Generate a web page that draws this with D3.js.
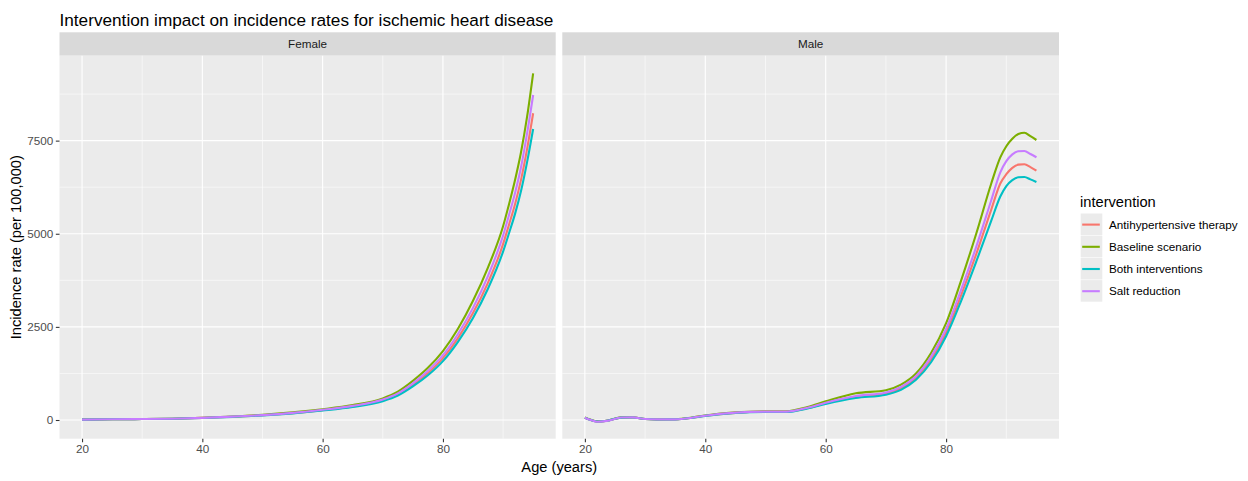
<!DOCTYPE html>
<html>
<head>
<meta charset="utf-8">
<script src="https://cdn.jsdelivr.net/npm/d3@7"></script>
<style>
  html, body { margin: 0; padding: 0; background: #ffffff; }
  svg { display: block; font-family: "Liberation Sans", Arial, sans-serif; }
</style>
</head>
<body>
<svg id="chart" width="1248" height="481"></svg>
<script>
// ---------------- data ----------------
const interventions = ["Antihypertensive therapy", "Baseline scenario", "Both interventions", "Salt reduction"];
const colors = ["#F8766D", "#7CAE00", "#00BFC4", "#C77CFF"];
const panels = ["Female", "Male"];

const xTicks = [20, 40, 60, 80];
const xMinor = [30, 50, 70, 90];
const yTicks = [0, 2500, 5000, 7500];
const yMinor = [1250, 3750, 6250, 8750];

const femaleAges = [20, 25, 30, 35, 40, 45, 50, 55, 60, 65, 70, 72.5, 75, 77.5, 80, 82.5, 85, 87.5, 90, 91, 92, 93, 94, 95];
const femaleAntihypertensive = [10, 20, 25, 35, 57, 88, 128, 185, 265, 365, 525, 685, 940, 1260, 1660, 2200, 2870, 3690, 4720, 5250, 5800, 6460, 7280, 8234];
const femaleBaseline        = [10, 20, 25, 35, 60, 95, 140, 205, 290, 400, 580, 760, 1050, 1400, 1850, 2450, 3200, 4100, 5200, 5800, 6450, 7200, 8150, 9307];
const femaleBoth            = [10, 20, 25, 34, 55, 85, 123, 178, 255, 350, 505, 655, 900, 1200, 1580, 2100, 2740, 3530, 4520, 5020, 5540, 6160, 6930, 7812];
const femaleSalt            = [10, 20, 25, 35, 58, 90, 132, 192, 275, 380, 550, 715, 985, 1320, 1740, 2310, 3010, 3870, 4950, 5510, 6100, 6800, 7700, 8725];

const maleAges = [20, 21, 22, 23, 24, 26, 28, 30, 32, 35, 38, 40, 45, 50, 53.5, 57, 60, 65, 70, 72.5, 75, 77.5, 80, 82.5, 85, 87.5, 89, 90, 91, 92, 93, 94, 95];
const maleAntihypertensive = [62, 0, -42, -35, -10, 65, 68, 25, 15, 18, 65, 112, 192, 220, 222, 320, 450, 620, 710, 850, 1130, 1630, 2350, 3350, 4450, 5650, 6350, 6600, 6770, 6855, 6864, 6790, 6693];
const maleBaseline        = [66, 4, -38, -32, -6, 70, 72, 28, 18, 22, 72, 122, 205, 232, 235, 350, 500, 716, 800, 950, 1250, 1800, 2600, 3750, 5000, 6350, 7050, 7350, 7550, 7680, 7713, 7620, 7517];
const maleBoth            = [62, 0, -42, -35, -10, 65, 68, 25, 15, 18, 64, 110, 188, 215, 215, 310, 430, 590, 680, 810, 1080, 1550, 2250, 3200, 4250, 5350, 6000, 6280, 6440, 6515, 6523, 6460, 6389];
const maleSalt            = [62, 0, -45, -38, -12, 66, 70, 25, 18, 18, 66, 116, 197, 224, 224, 331, 465, 644, 740, 890, 1180, 1700, 2450, 3500, 4650, 5900, 6650, 6950, 7130, 7215, 7222, 7140, 7052];

const seriesByPanel = {
  Female: { ages: femaleAges, values: [femaleAntihypertensive, femaleBaseline, femaleBoth, femaleSalt] },
  Male:   { ages: maleAges,   values: [maleAntihypertensive,   maleBaseline,   maleBoth,   maleSalt] }
};

// ---------------- layout ----------------
const svg = d3.select("#chart");
const panelTop = 55.7, panelBottom = 438.7;
const stripTop = 32.3;
const panelX = [[59.5, 555.7], [562.3, 1059]];

const y = d3.scaleLinear().domain([-502, 9780]).range([panelBottom, panelTop]);

svg.append("text")
  .attr("x", 59.5).attr("y", 26)
  .attr("font-size", "17.2px").attr("fill", "#000")
  .text("Intervention impact on incidence rates for ischemic heart disease");

panels.forEach((p, i) => {
  const [x0, x1] = panelX[i];
  const x = d3.scaleLinear().domain([16.25, 98.75]).range([x0, x1]);
  const g = svg.append("g");

  // strip
  g.append("rect").attr("x", x0).attr("y", stripTop).attr("width", x1 - x0).attr("height", panelTop - stripTop).attr("fill", "#D9D9D9");
  g.append("text").attr("x", (x0 + x1) / 2).attr("y", (stripTop + panelTop) / 2 + 4.1)
    .attr("text-anchor", "middle").attr("font-size", "11.7px").attr("fill", "#1A1A1A").text(p);

  // panel background
  g.append("rect").attr("x", x0).attr("y", panelTop).attr("width", x1 - x0).attr("height", panelBottom - panelTop).attr("fill", "#EBEBEB");

  // minor grid
  g.selectAll(".vminor").data(xMinor).enter().append("line")
    .attr("x1", d => x(d)).attr("x2", d => x(d)).attr("y1", panelTop).attr("y2", panelBottom)
    .attr("stroke", "#fff").attr("stroke-width", 0.55);
  g.selectAll(".hminor").data(yMinor).enter().append("line")
    .attr("y1", d => y(d)).attr("y2", d => y(d)).attr("x1", x0).attr("x2", x1)
    .attr("stroke", "#fff").attr("stroke-width", 0.55);
  // major grid
  g.selectAll(".vmajor").data(xTicks).enter().append("line")
    .attr("x1", d => x(d)).attr("x2", d => x(d)).attr("y1", panelTop).attr("y2", panelBottom)
    .attr("stroke", "#fff").attr("stroke-width", 1.1);
  g.selectAll(".hmajor").data(yTicks).enter().append("line")
    .attr("y1", d => y(d)).attr("y2", d => y(d)).attr("x1", x0).attr("x2", x1)
    .attr("stroke", "#fff").attr("stroke-width", 1.1);

  // lines
  const s = seriesByPanel[p];
  const line = d3.line().x(d => x(d[0])).y(d => y(d[1])).curve(d3.curveMonotoneX);
  s.values.forEach((vals, k) => {
    const pts = s.ages.map((a, j) => [a, vals[j]]);
    g.append("path").attr("d", line(pts)).attr("fill", "none")
      .attr("stroke", colors[k]).attr("stroke-width", 2.1).attr("stroke-linejoin", "round");
  });

  // x axis
  const xa = svg.append("g").attr("transform", `translate(0,${panelBottom})`)
    .call(d3.axisBottom(x).tickValues(xTicks).tickSize(3.67).tickPadding(2.5).tickFormat(d3.format("d")));
  xa.select(".domain").remove();
  xa.selectAll("line").attr("stroke", "#333333").attr("stroke-width", 1.07);
  xa.selectAll("text").attr("fill", "#4D4D4D").attr("font-size", "11.7px").attr("font-family", "Liberation Sans, Arial, sans-serif");

  if (i === 0) {
    const ya = svg.append("g").attr("transform", `translate(${x0},0)`)
      .call(d3.axisLeft(y).tickValues(yTicks).tickSize(3.67).tickPadding(2.5).tickFormat(d3.format("d")));
    ya.select(".domain").remove();
    ya.selectAll("line").attr("stroke", "#333333").attr("stroke-width", 1.07);
    ya.selectAll("text").attr("fill", "#4D4D4D").attr("font-size", "11.7px").attr("font-family", "Liberation Sans, Arial, sans-serif");
  }
});

// axis titles
svg.append("text").attr("x", (panelX[0][0] + panelX[1][1]) / 2).attr("y", 472)
  .attr("text-anchor", "middle").attr("font-size", "14.67px").attr("fill", "#000").text("Age (years)");
svg.append("text").attr("transform", `translate(21,${(panelTop + panelBottom) / 2}) rotate(-90)`)
  .attr("text-anchor", "middle").attr("font-size", "14.67px").attr("fill", "#000").text("Incidence rate (per 100,000)");

// legend
const lg = svg.append("g");
lg.append("text").attr("x", 1080).attr("y", 207).attr("font-size", "14.67px").attr("fill", "#000").text("intervention");
const keyTop = 213.5, keyH = 22.2, keyX = 1080.7, keyW = 21.6;
interventions.forEach((name, k) => {
  const ky = keyTop + k * keyH;
  lg.append("rect").attr("x", keyX).attr("y", ky).attr("width", keyW).attr("height", keyH - 0.6).attr("fill", "#EBEBEB");
  lg.append("line").attr("x1", keyX + 1.5).attr("x2", keyX + keyW - 2.5).attr("y1", ky + keyH / 2).attr("y2", ky + keyH / 2)
    .attr("stroke", colors[k]).attr("stroke-width", 2.1);
  lg.append("text").attr("x", 1109).attr("y", ky + keyH / 2 + 4.1).attr("font-size", "11.7px").attr("fill", "#000").text(name);
});
</script>
</body>
</html>
